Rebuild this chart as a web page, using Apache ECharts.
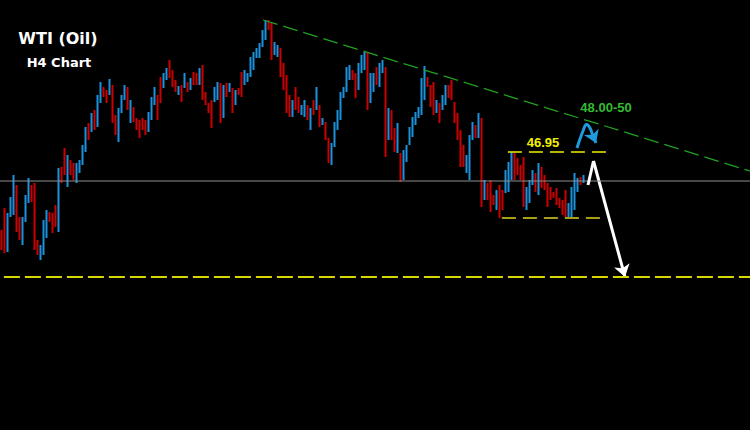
<!DOCTYPE html>
<html>
<head>
<meta charset="utf-8">
<script src="https://cdn.jsdelivr.net/npm/echarts@6/dist/echarts.min.js"></script>
<style>
html,body{margin:0;padding:0;background:#000;}
#chart{width:750px;height:430px;}
</style>
</head>
<body>
<div id="chart"></div>
<script>
// ---- Data (WTI H4 candles) ----
const highs = [
43.83,44.71,44.51,45.15,46.03,45.63,44.35,44.35,45.23,45.91,
45.63,45.71,43.43,43.23,44.23,44.63,44.55,44.51,44.83,46.31,
46.35,47.11,46.83,46.63,46.51,46.51,46.63,47.23,47.95,48.11,
48.51,48.63,49.23,49.75,49.55,49.43,49.87,49.63,48.43,48.71,
49.23,49.63,49.55,49.03,48.75,48.31,48.23,48.31,48.23,48.55,
49.15,49.55,49.23,49.95,50.11,50.31,50.63,50.23,49.83,49.59,
49.63,50.11,49.75,49.91,50.15,50.11,50.31,50.43,49.35,48.91,
49.03,49.55,49.75,49.71,49.63,49.71,49.71,49.51,49.43,49.51,
50.15,50.23,50.11,50.75,50.95,51.11,51.31,51.83,52.23,52.23,
52.11,51.35,51.23,51.11,50.51,50.03,49.23,49.03,49.55,49.15,
48.83,49.03,48.83,48.71,49.03,49.55,48.83,48.31,48.15,47.51,
47.31,48.15,48.63,49.35,49.55,50.35,50.43,50.23,50.11,50.51,
50.83,50.95,50.95,50.11,50.11,50.35,50.51,50.63,50.35,48.71,
48.63,47.91,48.11,46.91,47.03,47.23,47.95,48.35,48.55,48.75,
49.91,50.39,49.95,49.63,49.75,49.03,48.91,49.23,49.63,49.63,
49.83,48.95,48.51,47.83,47.23,46.83,47.63,48.15,48.03,48.51,
48.31,45.83,45.71,45.83,45.23,45.43,45.63,45.43,46.23,46.55,
46.95,46.91,46.71,46.43,46.75,45.55,45.83,46.23,46.11,46.51,
46.35,46.03,45.71,45.55,45.35,45.51,45.11,45.03,45.43,44.91,
45.55,46.11,45.91,45.95,46.03
];
const lows = [
43.03,42.91,42.95,44.35,44.43,43.75,43.43,43.23,44.15,44.91,
44.95,43.03,42.83,42.63,42.83,43.51,44.15,43.71,43.95,43.75,
45.71,46.03,45.55,46.03,45.83,45.71,46.11,46.43,46.95,47.43,
47.75,47.83,47.95,48.91,49.15,48.91,49.23,48.11,47.63,47.35,
48.51,49.03,48.63,48.11,48.15,47.83,47.51,47.83,47.63,47.75,
48.23,48.83,48.23,48.91,49.51,49.83,49.91,49.55,49.35,49.23,
48.95,49.51,49.35,49.43,49.63,49.63,49.63,49.03,48.83,48.51,
47.91,48.95,49.03,48.11,48.31,49.15,49.35,48.51,48.83,49.23,
49.15,49.63,49.75,49.95,50.23,50.71,50.71,51.15,51.43,51.83,
50.63,50.83,50.75,49.95,49.43,48.51,48.35,48.35,48.63,48.51,
48.43,48.35,48.23,47.83,48.43,48.63,47.95,48.03,47.43,46.51,
46.43,47.15,47.83,48.23,49.11,49.35,49.83,49.83,49.11,49.43,
50.11,50.23,48.63,48.91,49.35,49.63,49.55,50.11,46.75,47.43,
47.43,46.95,46.91,45.75,45.83,46.55,47.23,47.55,48.03,48.31,
48.43,49.03,49.55,48.75,48.43,48.51,48.11,48.63,48.83,49.11,
49.03,48.11,47.43,46.35,46.35,46.11,45.83,47.43,47.51,47.51,
44.75,45.03,45.03,44.55,44.83,44.63,44.31,44.63,45.31,45.35,
45.83,45.83,46.03,45.83,44.75,44.63,44.91,45.63,45.35,45.23,
45.51,45.43,44.75,45.03,45.11,44.83,44.71,44.43,44.35,44.31,
44.35,44.63,45.35,45.63,45.71
];
// u = bullish candle (closes at its high), d = bearish (closes at its low)
const direction = [
  'dduuudduuu','ddduuudddu','ddudduuuud','uduudduddu','uududddddu',
  'uudduudddu','dududduddd','duudududud','duuuuuuuud','duuddddudd',
  'uududududd','uuuuuuuddu','uuduuduudu','dduduuuuuu','uuddduduud',
  'ddddduuudu','dudddudduu','udddduuudu','dddddddddu','uuudu'
].join('');
const slotCount = 250; // candle slots incl. empty space on the right
const categories = Array.from({length: slotCount}, (_, i) => 'H4 #' + (i + 1));

// key levels / annotations (price units)
const pivotLevel = 45.79;
const lowerTarget = 41.95;
const rangeTop = 46.95;
const rangeBottom = 44.31;
const trendStart = [87.2, 52.23];
const trendEnd = [249.5, 46.19];

const ohlc = highs.map((h, i) => {
  const l = lows[i];
  return direction[i] === 'u' ? [l, h, l, h] : [h, l, l, h];
});

const chart = echarts.init(document.getElementById('chart'), null, {renderer: 'svg'});
const dashLine = (pts, color, width, dash) => ({
  type: 'line', xAxisIndex: 1, yAxisIndex: 0, data: pts, symbol: 'none',
  silent: true, lineStyle: {color: color, width: width, type: dash}
});
chart.setOption({
  animation: false,
  backgroundColor: '#000000',
  grid: {left: 0, right: 0, top: 0, bottom: 0},
  xAxis: [
    {type: 'category', data: categories, show: false, boundaryGap: true},
    {type: 'value', min: -0.5, max: slotCount - 0.5, show: false}
  ],
  yAxis: {type: 'value', min: 35.83, max: 53.03, show: false, splitLine: {show: false}},
  series: [
    dashLine([[-0.5, pivotLevel], [slotCount - 0.5, pivotLevel]], '#8e8e8e', 1, 'solid'),
    dashLine([[0.8, lowerTarget], [slotCount - 0.5, lowerTarget]], '#d8d800', 1.8, [16, 5]),
    dashLine([trendStart, trendEnd], '#22a022', 1.3, [15, 6]),
    dashLine([[168.8, rangeTop], [202.2, rangeTop]], '#eeee00', 1.6, [14, 7]),
    dashLine([[166.8, rangeBottom], [199.8, rangeBottom]], '#a89f18', 2, [14, 7]),
    {
      type: 'candlestick', xAxisIndex: 0, yAxisIndex: 0, data: ohlc, barWidth: 2,
      itemStyle: {color: '#1b93dc', color0: '#cc0000', borderColor: '#1b93dc', borderColor0: '#cc0000', borderWidth: 0}
    },
    {
      type: 'line', xAxisIndex: 1, yAxisIndex: 0, symbol: 'none', smooth: 0.4,
      data: [[191.83, 47.11], [193.83, 47.79], [195.0, 48.05], [196.17, 47.91], [197.0, 47.63]],
      lineStyle: {color: '#1e9be0', width: 3}
    },
    {
      type: 'line', xAxisIndex: 1, yAxisIndex: 0, symbol: 'none',
      data: [[195.5, 45.63], [197.33, 46.59]],
      lineStyle: {color: '#ffffff', width: 3}
    },
    {
      type: 'lines', coordinateSystem: 'cartesian2d', xAxisIndex: 1, yAxisIndex: 0,
      symbol: ['none', 'arrow'], symbolSize: 12,
      data: [
        {coords: [[196.9, 47.67], [198.17, 47.31]], lineStyle: {color: '#1e9be0', width: 3, opacity: 1}},
        {coords: [[197.33, 46.59], [207.83, 41.95]], lineStyle: {color: '#ffffff', width: 3, opacity: 1}}
      ]
    }
  ],
  graphic: [
    {type: 'text', x: 58, y: 38, style: {text: 'WTI (Oil)', fill: '#ffffff', font: 'bold 16px "DejaVu Sans"', textAlign: 'center', textVerticalAlign: 'middle'}},
    {type: 'text', x: 59, y: 62, style: {text: 'H4 Chart', fill: '#ffffff', font: 'bold 13px "DejaVu Sans"', textAlign: 'center', textVerticalAlign: 'middle'}},
    {type: 'text', x: 543, y: 142, style: {text: '46.95', fill: '#f2f200', font: 'bold 13px "Liberation Sans"', textAlign: 'center', textVerticalAlign: 'middle'}},
    {type: 'text', x: 606, y: 107, style: {text: '48.00-50', fill: '#33bb33', font: 'bold 13px "Liberation Sans"', textAlign: 'center', textVerticalAlign: 'middle'}}
  ]
});
</script>
</body>
</html>
